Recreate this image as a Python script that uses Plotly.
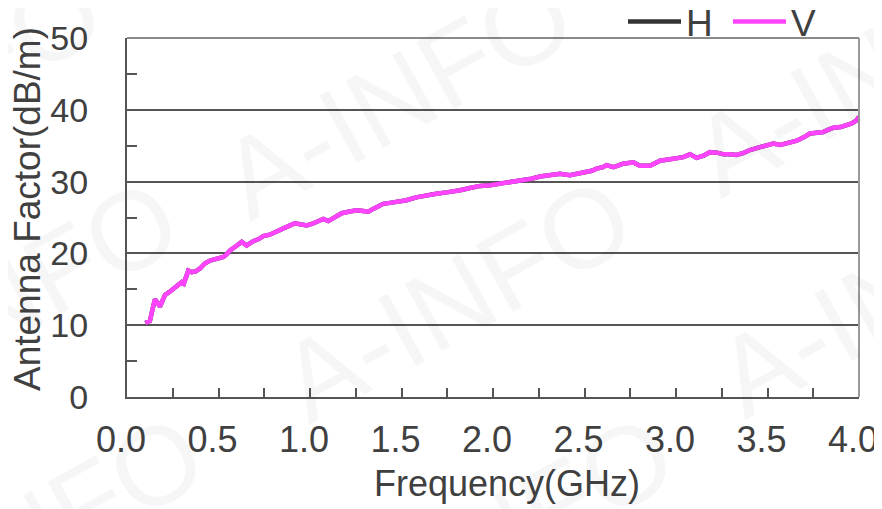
import plotly.graph_objects as go

# ---- data ----
freq_ghz = [0.10, 0.125, 0.145, 0.153, 0.165, 0.18, 0.195, 0.208, 0.23, 0.253,
            0.275, 0.299, 0.31, 0.335, 0.353, 0.375, 0.399, 0.425, 0.454, 0.49,
            0.527, 0.545, 0.563, 0.595, 0.627, 0.654, 0.69, 0.72, 0.745, 0.78,
            0.818, 0.85, 0.891, 0.918, 0.95, 0.982, 1.01, 1.037, 1.073, 1.10,
            1.14, 1.173, 1.21, 1.255, 1.29, 1.319, 1.345, 1.373, 1.40, 1.428,
            1.48, 1.528, 1.58, 1.638, 1.69, 1.747, 1.78, 1.82, 1.874, 1.93,
            1.984, 2.04, 2.093, 2.13, 2.166, 2.21, 2.257, 2.31, 2.366, 2.42,
            2.46, 2.512, 2.54, 2.566, 2.60, 2.621, 2.658, 2.69, 2.712, 2.767,
            2.803, 2.858, 2.913, 2.967, 3.00, 3.04, 3.077, 3.113, 3.15, 3.186,
            3.23, 3.26, 3.295, 3.33, 3.37, 3.404, 3.459, 3.50, 3.532, 3.57,
            3.605, 3.63, 3.66, 3.70, 3.732, 3.77, 3.805, 3.83, 3.86, 3.90,
            3.933, 3.96, 3.985, 4.0]
af_v = [10.3, 10.6, 12.8, 13.6, 13.2, 12.6, 13.5, 14.2, 14.6, 15.1,
        15.6, 16.0, 15.8, 17.6, 17.4, 17.5, 17.9, 18.6, 19.0, 19.3,
        19.5, 19.9, 20.4, 21.0, 21.6, 21.1, 21.7, 22.0, 22.4, 22.6,
        23.0, 23.3, 23.9, 24.2, 24.1, 23.9, 24.1, 24.4, 24.8, 24.5,
        25.1, 25.6, 25.8, 26.0, 25.9, 25.8, 26.2, 26.5, 26.9, 27.0,
        27.2, 27.4, 27.8, 28.1, 28.3, 28.5, 28.7, 28.8, 29.1, 29.4,
        29.5, 29.7, 29.9, 30.1, 30.3, 30.4, 30.7, 30.9, 31.1, 30.9,
        31.1, 31.3, 31.5, 31.8, 32.0, 32.3, 32.0, 32.3, 32.5, 32.7,
        32.2, 32.2, 32.9, 33.1, 33.3, 33.4, 33.8, 33.3, 33.6, 34.1,
        34.0, 33.8, 33.8, 33.7, 34.0, 34.4, 34.8, 35.0, 35.3, 35.1,
        35.3, 35.4, 35.7, 36.2, 36.7, 36.8, 36.9, 37.2, 37.5, 37.6,
        37.8, 38.1, 38.5, 39.0]
# H is hidden under V in the reference (identical trace)
af_h = list(af_v)

series_names = ["H", "V"]
x_tick_vals = [0.0, 0.5, 1.0, 1.5, 2.0, 2.5, 3.0, 3.5, 4.0]
x_tick_text = ["0.0", "0.5", "1.0", "1.5", "2.0", "2.5", "3.0", "3.5", "4.0"]
y_tick_vals = [0, 10, 20, 30, 40, 50]
x_title = "Frequency(GHz)"
y_title = "Antenna Factor(dB/m)"
watermark = "A-INFO"

# page has an 8px body margin -> figure offset by 8px
OFF = 8
W, H = 882 - OFF, 509 - OFF
L, T = 127 - OFF, 38 - OFF
R = W - (859 - OFF)
B = H - (397 - OFF)
pw, ph = W - L - R, H - T - B

def px2paper(px, py):
    # px, py in page pixels
    return (px - OFF - L) / pw, (H - B - (py - OFF)) / ph

TXT = "#404040"
AX = "#555555"
FONT = "Liberation Sans, Arial, sans-serif"

fig = go.Figure()
fig.add_trace(go.Scatter(x=freq_ghz, y=af_h, mode="lines", name=series_names[0] + "\u00a0",
                         line=dict(color="#333333", width=4.5)))
fig.add_trace(go.Scatter(x=freq_ghz, y=af_v, mode="lines", name=series_names[1],
                         line=dict(color="#FF44FF", width=4.5)))

# watermark (faint)
wm_centers = [(-74, 91), (397, 96), (868, 73), (3, 301), (456, 299), (892, 294),
              (28, 536), (498, 536)]
for cx, cy in wm_centers:
    ax_, ay_ = px2paper(cx, cy)
    fig.add_annotation(x=ax_, y=ay_, xref="paper", yref="paper", text=watermark,
                       showarrow=False, textangle=-29, xanchor="center", yanchor="middle",
                       font=dict(family=FONT, size=112, color="rgba(0,0,0,0.035)"))

# axis titles
tx, ty = px2paper(507, 484)
fig.add_annotation(x=tx, y=ty, xref="paper", yref="paper", text=x_title, showarrow=False,
                   xanchor="center", yanchor="middle", font=dict(family=FONT, size=36, color=TXT))
tx, ty = px2paper(27, 209)
fig.add_annotation(x=tx, y=ty, xref="paper", yref="paper", text=y_title, showarrow=False,
                   textangle=-90, xanchor="center", yanchor="middle",
                   font=dict(family=FONT, size=37, color=TXT))

# top and right frame lines (lighter)
fig.add_shape(type="line", xref="paper", yref="paper", x0=0, x1=1, y0=1, y1=1,
              line=dict(color="#8a8a8a", width=2))
fig.add_shape(type="line", xref="paper", yref="paper", x0=1, x1=1, y0=0, y1=1,
              line=dict(color="#9a9a9a", width=2))

lx, ly = px2paper(821, 22)
fig.update_layout(
    width=W, height=H,
    margin=dict(l=L, r=R, t=T, b=B, autoexpand=False),
    paper_bgcolor="white", plot_bgcolor="white",
    font=dict(family=FONT, color=TXT),
    showlegend=True,
    legend=dict(orientation="h", x=lx, xanchor="right", y=ly, yanchor="middle",
                font=dict(size=37, color=TXT), itemwidth=53, bgcolor="rgba(0,0,0,0)",
                tracegroupgap=0, itemclick=False),
    xaxis=dict(range=[0, 4], tickmode="array", tickvals=x_tick_vals, ticktext=x_tick_text,
               ticks="inside", ticklen=9, tickwidth=1.5, tickcolor=AX,
               minor=dict(dtick=0.25, ticks="inside", ticklen=9, tickwidth=1.5, tickcolor=AX, showgrid=False),
               showline=True, linecolor=AX, linewidth=2, showgrid=False, zeroline=False,
               tickfont=dict(size=36, color=TXT), ticklabeloverflow="allow",
               ticklabelstandoff=10, ticklabelshift=-6),
    yaxis=dict(range=[0, 50], tickmode="array", tickvals=y_tick_vals,
               ticks="inside", ticklen=10, tickwidth=1.5, tickcolor=AX,
               minor=dict(dtick=5, ticks="inside", ticklen=10, tickwidth=1.5, tickcolor=AX, showgrid=False),
               showline=True, linecolor=AX, linewidth=2, showgrid=True, gridcolor="#555555",
               gridwidth=1.5, zeroline=False,
               tickfont=dict(size=34, color=TXT), ticklabelstandoff=30, ticklabeloverflow="allow"),
)

fig.write_html("out.html")
